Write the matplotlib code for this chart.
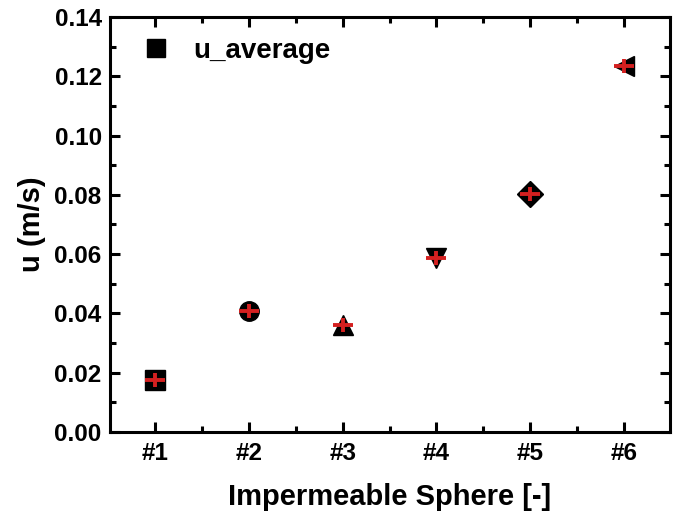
import numpy as np
import matplotlib.pyplot as plt
from matplotlib.ticker import MultipleLocator

plt.rcParams['font.family'] = ['Liberation Sans', 'DejaVu Sans']
plt.rcParams['font.weight'] = 'bold'

# Daten
labels = ['#1', '#2', '#3', '#4', '#5', '#6']
u_average = [0.0175, 0.0408, 0.0361, 0.0587, 0.0803, 0.1234]
markers = ['s', 'o', '^', 'v', 'D', '<']
sizes = [14, 14, 15, 15, 13, 15]

fig = plt.figure(figsize=(6.8, 5.15), dpi=100)
ax = fig.add_axes([0.1618, 0.1612, 0.8235, 0.8058])

x = np.arange(1, len(labels) + 1)
for i in range(len(x)):
    ax.plot(x[i], u_average[i], linestyle='none', marker=markers[i], ms=sizes[i],
            color='black', label='u_average' if i == 0 else None, zorder=2)
    # rotes Kreuz
    ax.plot(x[i], u_average[i], linestyle='none', marker='_', ms=15, mew=2.8,
            color='#d42020', zorder=3)
    ax.plot(x[i], u_average[i], linestyle='none', marker='|', ms=10, mew=2.8,
            color='#d42020', zorder=3)

ax.set_xlim(0.52, 6.49)
ax.set_ylim(0, 0.14)
ax.set_xticks(x)
ax.set_xticklabels(labels)
ax.xaxis.set_minor_locator(MultipleLocator(0.5))
ax.yaxis.set_major_locator(MultipleLocator(0.02))
ax.yaxis.set_minor_locator(MultipleLocator(0.01))
ax.yaxis.set_major_formatter(plt.FormatStrFormatter('%.2f'))

for s in ax.spines.values():
    s.set_linewidth(2.2)
ax.tick_params(which='both', direction='in', top=True, right=True, width=2.2,
               labelsize=17.5)
ax.tick_params(axis='x', pad=7)
ax.tick_params(axis='y', pad=6)
ax.tick_params(which='major', length=7)
ax.tick_params(which='minor', length=4)

ax.set_xlabel('Impermeable Sphere [-]', fontsize=21, fontweight='bold', labelpad=13)
ax.set_ylabel('u (m/s)', fontsize=21, fontweight='bold', labelpad=6)

ax.legend(loc='upper left', frameon=False, fontsize=20, handletextpad=0.45,
          handlelength=1.8, borderaxespad=0.35, markerscale=0.9)

plt.savefig('out.png', dpi=100)
